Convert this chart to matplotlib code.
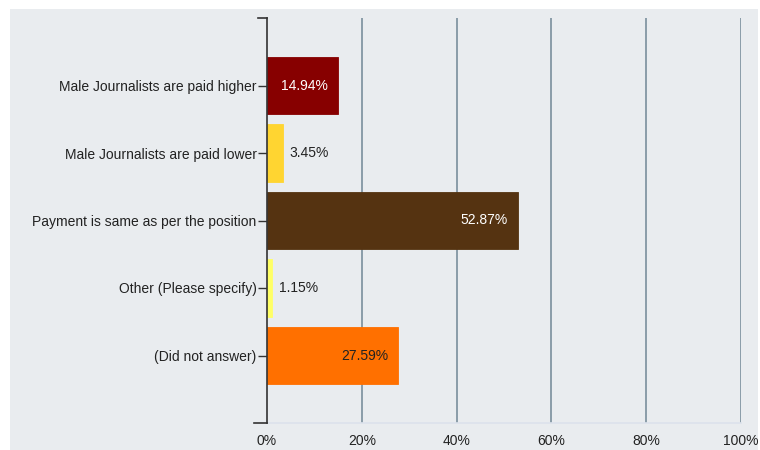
import matplotlib
matplotlib.use("Agg")
import matplotlib.pyplot as plt
from matplotlib.patches import Rectangle
from matplotlib.lines import Line2D

categories = [
    "Male Journalists are paid higher",
    "Male Journalists are paid lower",
    "Payment is same as per the position",
    "Other (Please specify)",
    "(Did not answer)",
]
values = [14.94, 3.45, 52.87, 1.15, 27.59]
colors = ["#870000", "#FFD531", "#553311", "#FFFF66", "#FF7000"]
label_colors = ["white", "#222222", "white", "#222222", "#222222"]
xticks = [0, 20, 40, 60, 80, 100]
xtick_labels = ["0%", "20%", "40%", "60%", "80%", "100%"]

plt.rcParams["font.family"] = ["Liberation Sans", "DejaVu Sans"]

W, H = 760, 450
fig = plt.figure(figsize=(W / 100, H / 100), dpi=100)
fig.patch.set_facecolor("white")

# grey panel behind the chart
panel = Rectangle((10 / W, 0), 748 / W, 1 - 9 / H,
                  transform=fig.transFigure, facecolor="#E9ECEF",
                  edgecolor="none", zorder=-10)
fig.add_artist(panel)

left, right, top, bottom = 267, 741, 18, 423
ax = fig.add_axes([left / W, 1 - bottom / H, (right - left) / W, (bottom - top) / H])
ax.patch.set_visible(False)

ypos = list(range(len(categories)))
ax.barh(ypos, values, height=0.85, color=colors, edgecolor=colors,
        linewidth=0.6, zorder=3)

ax.set_xlim(0, 100)
ax.set_ylim(len(categories), -1)

for y, v, lc in zip(ypos, values, label_colors):
    txt = f"{v:.2f}%"
    if v > 10:
        ax.annotate(txt, (v, y), xytext=(-7, 0), textcoords="offset points",
                    ha="right", va="center", color=lc, fontsize=10, zorder=4)
    else:
        ax.annotate(txt, (v, y), xytext=(4.5, 0), textcoords="offset points",
                    ha="left", va="center", color=lc, fontsize=10, zorder=4)

# vertical gridlines
for t in xticks[1:]:
    ax.axvline(t, color="#8A9CA9", linewidth=1.4, zorder=1)

for s in ["top", "right"]:
    ax.spines[s].set_visible(False)
ax.spines["bottom"].set_color("#DCE2EC")
ax.spines["bottom"].set_linewidth(1.2)
ax.spines["left"].set_color("#333333")
ax.spines["left"].set_linewidth(1.2)
ax.spines["left"].set_zorder(5)

ax.set_yticks(ypos)
ax.set_yticklabels(categories, fontsize=10, color="#222222")
ax.tick_params(axis="y", length=6.5, width=1.0, color="#333333", pad=1)

ax.set_xticks(xticks)
ax.set_xticklabels(xtick_labels, fontsize=10, color="#222222")
ax.tick_params(axis="x", length=0, pad=8)

# small caps at the ends of the category axis
ax.add_line(Line2D([-2.0, 0], [-1, -1], color="#333333", linewidth=1.2,
                   clip_on=False, zorder=5))
ax.add_line(Line2D([-2.7, 0], [len(categories), len(categories)],
                   color="#333333", linewidth=1.2, clip_on=False, zorder=5))

fig.savefig("out.png", dpi=100, facecolor=fig.get_facecolor())
